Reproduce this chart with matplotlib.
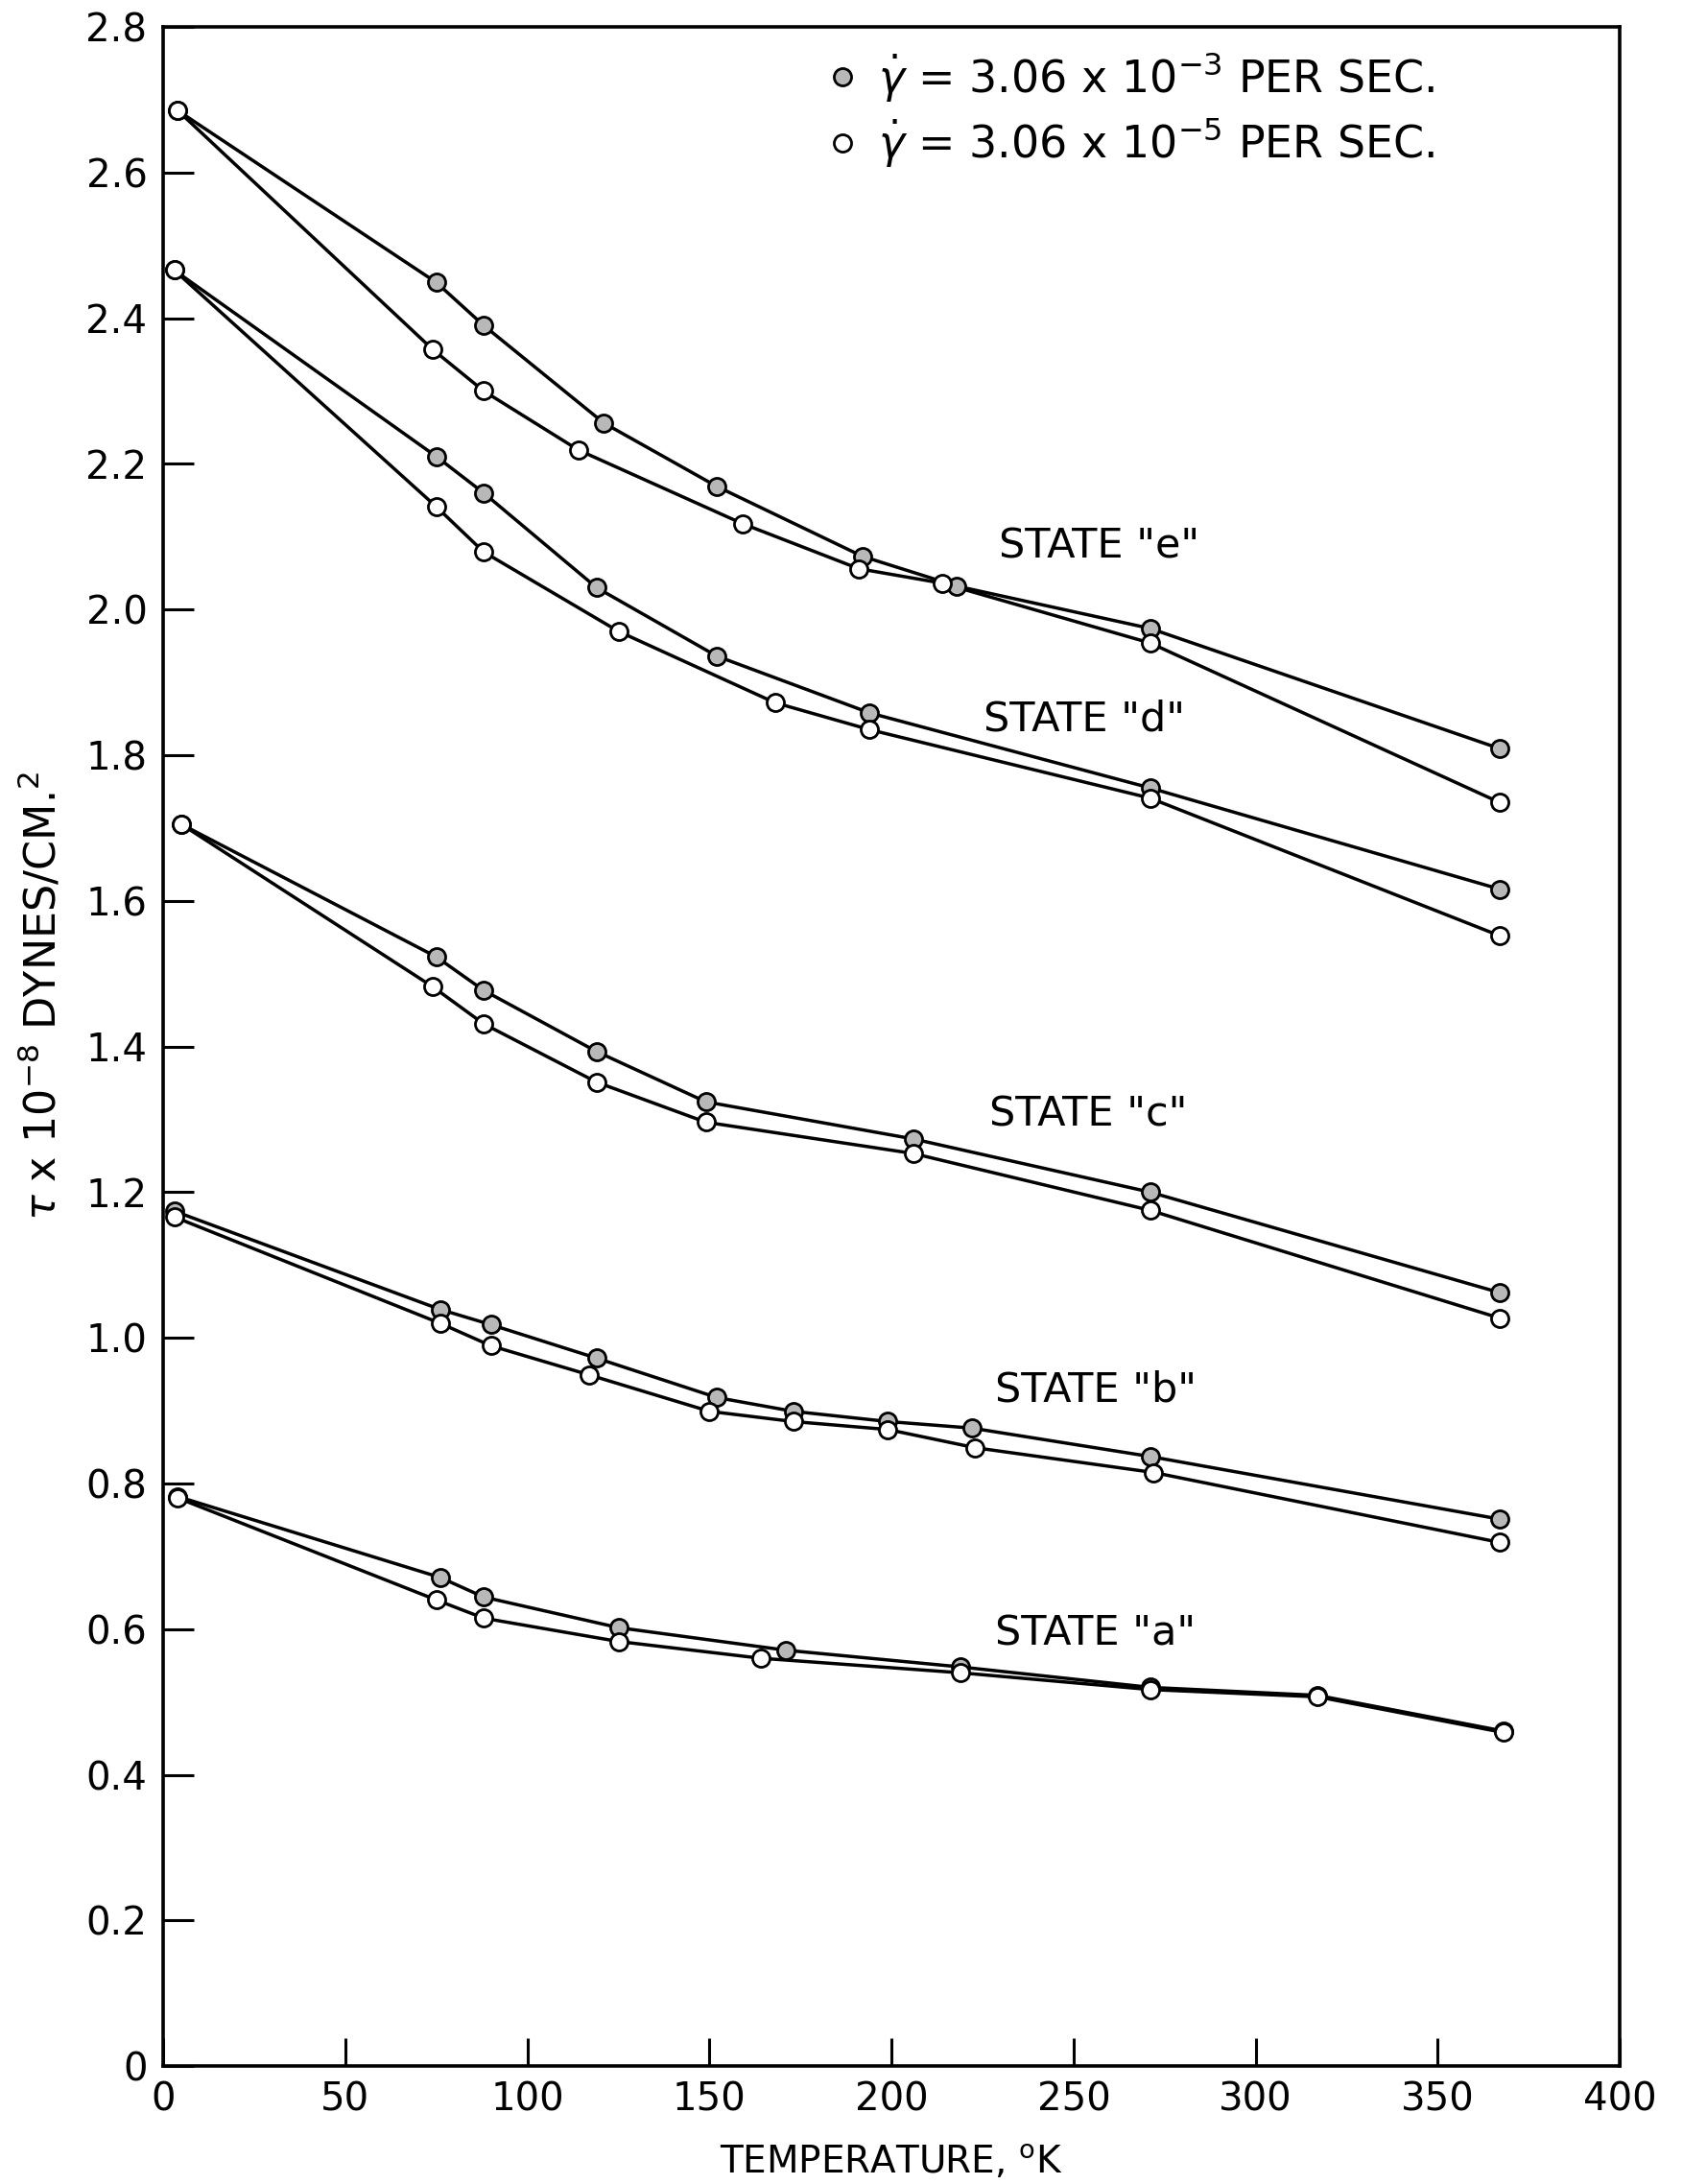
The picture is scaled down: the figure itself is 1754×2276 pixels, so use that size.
import matplotlib.pyplot as plt
from matplotlib.lines import Line2D

# values
# temperature in K, shear stress in units of 1e-8 dynes/cm^2
# "fast" = 3.06e-3 per sec (stippled circles), "slow" = 3.06e-5 per sec (open circles)
e_fast_T = [4, 75, 88, 121, 152, 192, 218, 271, 367]
e_fast_tau = [2.685, 2.449, 2.390, 2.256, 2.169, 2.073, 2.032, 1.974, 1.809]
e_slow_T = [4, 74, 88, 114, 159, 191, 214, 271, 367]
e_slow_tau = [2.685, 2.357, 2.300, 2.219, 2.118, 2.056, 2.036, 1.954, 1.735]

d_fast_T = [3, 75, 88, 119, 152, 194, 271, 367]
d_fast_tau = [2.466, 2.210, 2.160, 2.030, 1.936, 1.858, 1.755, 1.616]
d_slow_T = [3, 75, 88, 125, 168, 194, 271, 367]
d_slow_tau = [2.466, 2.141, 2.079, 1.970, 1.872, 1.835, 1.741, 1.552]

c_fast_T = [5, 75, 88, 119, 149, 206, 271, 367]
c_fast_tau = [1.705, 1.523, 1.477, 1.393, 1.324, 1.273, 1.200, 1.062]
c_slow_T = [5, 74, 88, 119, 149, 206, 271, 367]
c_slow_tau = [1.705, 1.482, 1.431, 1.351, 1.296, 1.253, 1.175, 1.027]

b_fast_T = [3, 76, 90, 119, 152, 173, 199, 222, 271, 367]
b_fast_tau = [1.174, 1.039, 1.018, 0.972, 0.918, 0.899, 0.885, 0.876, 0.837, 0.751]
b_slow_T = [3, 76, 90, 117, 150, 173, 199, 223, 272, 367]
b_slow_tau = [1.166, 1.020, 0.989, 0.949, 0.899, 0.885, 0.874, 0.849, 0.815, 0.719]

a_fast_T = [4, 76, 88, 125, 171, 219, 271, 317, 368]
a_fast_tau = [0.782, 0.671, 0.644, 0.602, 0.571, 0.548, 0.520, 0.509, 0.460]
a_slow_T = [4, 75, 88, 125, 164, 219, 271, 317, 368]
a_slow_tau = [0.780, 0.640, 0.615, 0.583, 0.560, 0.540, 0.517, 0.507, 0.458]

state_names = ["e", "d", "c", "b", "a"]
label_T = [257, 253, 254, 256, 256]
label_tau = [2.086, 1.849, 1.306, 0.928, 0.594]

x_ticks = [0, 50, 100, 150, 200, 250, 300, 350, 400]
y_ticks = [0, 0.2, 0.4, 0.6, 0.8, 1.0, 1.2, 1.4, 1.6, 1.8, 2.0, 2.2, 2.4, 2.6, 2.8]
y_ticklabels = ["0", "0.2", "0.4", "0.6", "0.8", "1.0", "1.2", "1.4", "1.6",
                "1.8", "2.0", "2.2", "2.4", "2.6", "2.8"]

series = [
    (e_fast_T, e_fast_tau, e_slow_T, e_slow_tau),
    (d_fast_T, d_fast_tau, d_slow_T, d_slow_tau),
    (c_fast_T, c_fast_tau, c_slow_T, c_slow_tau),
    (b_fast_T, b_fast_tau, b_slow_T, b_slow_tau),
    (a_fast_T, a_fast_tau, a_slow_T, a_slow_tau),
]

plt.rcParams["font.family"] = ["DejaVu Sans"]
plt.rcParams["mathtext.fontset"] = "dejavusans"

fig = plt.figure(figsize=(17.54, 22.76), dpi=100)
ax = fig.add_axes([0.097, 0.054, 0.8655, 0.9337])

fast_face = "0.72"
lw = 2.5
ms = 13

for fT, ftau, sT, stau in series:
    ax.plot(fT, ftau, color="black", lw=lw, zorder=2)
    ax.plot(sT, stau, color="black", lw=lw, zorder=2)
    ax.plot(fT, ftau, ls="none", marker="o", ms=ms, mfc=fast_face,
            mec="black", mew=2.0, zorder=3)
    ax.plot(sT, stau, ls="none", marker="o", ms=ms, mfc="white",
            mec="black", mew=2.0, zorder=3)

for name, tx, ty in zip(state_names, label_T, label_tau):
    ax.text(tx, ty, 'STATE "%s"' % name, fontsize=31, ha="center", va="center")

ax.set_xlim(0, 400)
ax.set_ylim(0, 2.8)
ax.set_xticks(x_ticks)
ax.set_yticks(y_ticks)
ax.set_yticklabels(y_ticklabels)
ax.tick_params(axis="both", direction="in", labelsize=29, width=2.2)
ax.tick_params(axis="x", length=21, pad=11)
ax.tick_params(axis="y", length=23, pad=12)
for s in ax.spines.values():
    s.set_linewidth(2.6)

ax.set_xlabel("TEMPERATURE, $^{\\mathsf{o}}$K", fontsize=28)
ax.xaxis.set_label_coords(0.5, -0.047)
ax.xaxis.label.set_va("center")
ax.set_ylabel("$\\tau$ x 10$^{-8}$ DYNES/CM.$^{2}$", fontsize=32)
ax.yaxis.set_label_coords(-0.083, 0.525)
ax.yaxis.label.set_va("center")

handles = [
    Line2D([], [], ls="none", marker="o", ms=ms, mfc=fast_face, mec="black", mew=2.0),
    Line2D([], [], ls="none", marker="o", ms=ms, mfc="white", mec="black", mew=2.0),
]
labels = [
    "$\\dot{\\gamma}$ = 3.06 x 10$^{-3}$ PER SEC.",
    "$\\dot{\\gamma}$ = 3.06 x 10$^{-5}$ PER SEC.",
]
ax.legend(handles, labels, loc="upper right", bbox_to_anchor=(0.90, 1.008),
          frameon=False, fontsize=33, handletextpad=0.3, handlelength=1.0,
          labelspacing=0.3)

fig.savefig("out.png", dpi=100, facecolor="white")
